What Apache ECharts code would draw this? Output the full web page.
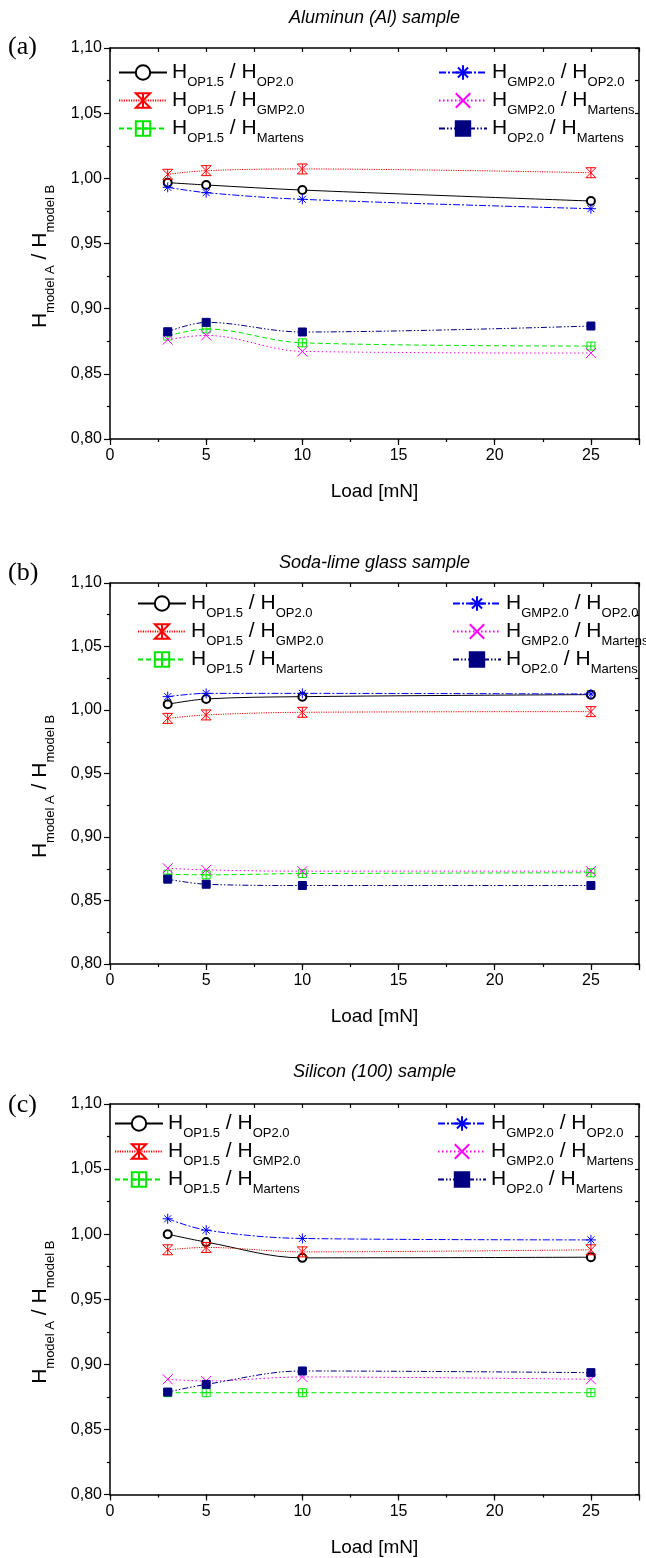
<!DOCTYPE html>
<html><head><meta charset="utf-8">
<script src="https://cdn.jsdelivr.net/npm/echarts@6/dist/echarts.min.js"></script>
<style>html,body{margin:0;padding:0;background:#fff}#c{width:646px;height:1558px}</style>
</head><body><div id="c"></div>
<script>
// ---------------- DATA ----------------
const loads = [3, 5, 10, 25];
const panelTitles = ['Aluminun (Al) sample', 'Soda-lime glass sample', 'Silicon (100) sample'];
const panelLetters = ['(a)', '(b)', '(c)'];
const ratioNames = ['OP1.5/OP2.0', 'OP1.5/GMP2.0', 'OP1.5/Martens', 'GMP2.0/OP2.0', 'GMP2.0/Martens', 'OP2.0/Martens'];
const xAxisName = 'Load [mN]';
const yAxisNameParts = ['model A', 'model B'];

// (a) Aluminun
const al_OP15_OP20   = [0.9967, 0.9949, 0.9910, 0.9826];
const al_OP15_GMP20  = [1.0031, 1.0059, 1.0072, 1.0043];
const al_OP15_Mart   = [0.8790, 0.8844, 0.8738, 0.8713];
const al_GMP20_OP20  = [0.9931, 0.9890, 0.9839, 0.9767];
const al_GMP20_Mart  = [0.8762, 0.8795, 0.8672, 0.8659];
const al_OP20_Mart   = [0.8823, 0.8895, 0.8821, 0.8867];
// (b) Soda-lime glass
const gl_OP15_OP20   = [1.0045, 1.0087, 1.0105, 1.0121];
const gl_OP15_GMP20  = [0.9934, 0.9961, 0.9982, 0.9987];
const gl_OP15_Mart   = [0.8707, 0.8702, 0.8712, 0.8718];
const gl_GMP20_OP20  = [1.0105, 1.0131, 1.0131, 1.0126];
const gl_GMP20_Mart  = [0.8754, 0.8741, 0.8731, 0.8731];
const gl_OP20_Mart   = [0.8668, 0.8628, 0.8618, 0.8618];
// (c) Silicon (100)
const si_OP15_OP20   = [1.0000, 0.9939, 0.9818, 0.9823];
const si_OP15_GMP20  = [0.9880, 0.9898, 0.9864, 0.9880];
const si_OP15_Mart   = [0.8782, 0.8782, 0.8782, 0.8782];
const si_GMP20_OP20  = [1.0118, 1.0031, 0.9967, 0.9956];
const si_GMP20_Mart  = [0.8885, 0.8872, 0.8903, 0.8885];
const si_OP20_Mart   = [0.8787, 0.8846, 0.8949, 0.8936];

const panelData = [
  [al_OP15_OP20, al_OP15_GMP20, al_OP15_Mart, al_GMP20_OP20, al_GMP20_Mart, al_OP20_Mart],
  [gl_OP15_OP20, gl_OP15_GMP20, gl_OP15_Mart, gl_GMP20_OP20, gl_GMP20_Mart, gl_OP20_Mart],
  [si_OP15_OP20, si_OP15_GMP20, si_OP15_Mart, si_GMP20_OP20, si_GMP20_Mart, si_OP20_Mart]
];

// ---------------- LAYOUT / STYLE ----------------
const FONT = 'Liberation Sans, Arial, sans-serif';
const gridL = 110, gridR = 7;
const grids = [{top: 48, h: 391}, {top: 583, h: 381}, {top: 1104, h: 391}];
const legendPos = [
  {l1: 118, l2: 438, top: 56},
  {l1: 137, l2: 452, top: 587},
  {l1: 114, l2: 437, top: 1107}
];
const titleY = [18, 563, 1072];
const letterY = [47, 573, 1105];

const styles = [
  {color: '#000000', symbol: 'emptyCircle', size: 8, type: 'solid', hollow: false},
  {color: '#ff0000', symbol: 'path://M0,0 L10,0 L0,10 L10,10 Z M5,0 L5,10', size: 10, type: [1.2, 1.2], hollow: true},
  {color: '#00e600', symbol: 'path://M0,0 L10,0 L10,10 L0,10 Z M5,0 L5,10 M0,5 L10,5', size: 8, type: [5, 3], hollow: true},
  {color: '#0000ff', symbol: 'path://M5,0 L5,10 M0,5 L10,5 M1.5,1.5 L8.5,8.5 M8.5,1.5 L1.5,8.5', size: 10, type: [7, 2, 2, 2], hollow: true},
  {color: '#ff00ff', symbol: 'path://M0,0 L10,10 M10,0 L0,10', size: 10, type: [1.5, 2.5], hollow: true},
  {color: '#000080', symbol: 'rect', size: 8, type: [6, 2, 1.5, 2, 1.5, 2], hollow: false}
];

const sub = s => '{s|' + s + '}';
function legendFmt(name) {
  const p = name.split('/');
  return '{h|H}' + sub(p[0]) + '{h| / H}' + sub(p[1]);
}
const richLegend = {
  h: {fontSize: 21, lineHeight: 24, fontFamily: FONT, color: '#000'},
  s: {fontSize: 13, lineHeight: 24, fontFamily: FONT, color: '#000', padding: [20, 0, 0, 0]}
};

const xAxis = [], yAxis = [], grid = [], series = [], legend = [], graphic = [];
const axisLine = {show: true, onZero: false, lineStyle: {color: '#000', width: 1.5}};

grids.forEach((g, p) => {
  grid.push({left: gridL, right: gridR, top: g.top, height: g.h, containLabel: false});
  // bottom major
  xAxis.push({
    type: 'value', gridIndex: p, position: 'bottom', min: 0, max: 27.5, interval: 5,
    axisLine, splitLine: {show: false},
    axisTick: {show: true, inside: false, length: 6, lineStyle: {color: '#000', width: 1.2}},
    axisLabel: {show: true, fontSize: 16, fontFamily: FONT, color: '#000', margin: 9,
      formatter: v => (v % 5 === 0 ? String(v) : '')},
    name: xAxisName, nameLocation: 'middle', nameGap: 53,
    nameTextStyle: {fontSize: 19, fontFamily: FONT, color: '#000', verticalAlign: 'middle'}
  });
  // bottom minor ticks
  xAxis.push({
    type: 'value', gridIndex: p, position: 'bottom', min: 0, max: 27.5, interval: 2.5,
    axisLine: {show: false}, splitLine: {show: false}, axisLabel: {show: false},
    axisTick: {show: true, inside: false, length: 3, lineStyle: {color: '#000', width: 1.2}}
  });
  // top
  xAxis.push({
    type: 'value', gridIndex: p, position: 'top', min: 0, max: 27.5, interval: 2.5,
    axisLine, splitLine: {show: false}, axisLabel: {show: false},
    axisTick: {show: true, inside: true, length: 4, lineStyle: {color: '#000', width: 1.2}}
  });
  // left
  yAxis.push({
    type: 'value', gridIndex: p, position: 'left', min: 0.80, max: 1.10, interval: 0.05,
    axisLine, splitLine: {show: false},
    axisTick: {show: true, inside: false, length: 6, lineStyle: {color: '#000', width: 1.2}},
    minorTick: {show: true, splitNumber: 2, length: 3, lineStyle: {color: '#000', width: 1.2}},
    axisLabel: {fontSize: 16, fontFamily: FONT, color: '#000', margin: 8,
      formatter: v => v.toFixed(2).replace('.', ',')},
    name: '{h|H}' + sub(yAxisNameParts[0]) + '{h| / H}' + sub(yAxisNameParts[1]),
    nameLocation: 'middle', nameGap: 70, nameRotate: 90,
    nameTextStyle: {verticalAlign: 'middle', align: 'center', padding: [0, 26, 0, 0], rich: {
      h: {fontSize: 21, lineHeight: 24, fontFamily: FONT, color: '#000'},
      s: {fontSize: 13, lineHeight: 24, fontFamily: FONT, color: '#000', padding: [20, 0, 0, 0]}
    }}
  });
  // right
  yAxis.push({
    type: 'value', gridIndex: p, position: 'right', min: 0.80, max: 1.10, interval: 0.025,
    axisLine, splitLine: {show: false}, axisLabel: {show: false},
    axisTick: {show: true, inside: true, length: 4, lineStyle: {color: '#000', width: 1.2}}
  });

  panelData[p].forEach((vals, k) => {
    const st = styles[k];
    series.push({
      type: 'line', name: ratioNames[k], xAxisIndex: p * 3, yAxisIndex: p * 2,
      data: loads.map((x, i) => [x, vals[i]]),
      smooth: 0.35, symbol: st.symbol, symbolSize: st.size, symbolKeepAspect: true,
      showAllSymbol: true,
      lineStyle: {color: st.color, width: 1, type: st.type},
      itemStyle: st.hollow ? {color: 'rgba(0,0,0,0)', borderColor: st.color, borderWidth: 1}
                           : {color: st.color, borderColor: st.color, borderWidth: 1},
      emphasis: {disabled: true}, animation: false, z: 3
    });
  });

  const lp = legendPos[p];
  [[0, 3, lp.l1], [3, 6, lp.l2]].forEach(([a, b, l]) => {
    legend.push({
      orient: 'vertical', left: l, top: lp.top, padding: 0, itemGap: -5,
      itemWidth: 48, itemHeight: 18, selectedMode: false,
      data: ratioNames.slice(a, b), formatter: legendFmt,
      textStyle: {rich: richLegend, padding: [0, 0, 0, 0]}
    });
  });

  graphic.push({type: 'text', x: gridL + (646 - gridL - gridR) / 2, y: titleY[p],
    style: {text: panelTitles[p], font: 'italic 18px ' + FONT, fill: '#000', align: 'center', verticalAlign: 'middle'}});
  graphic.push({type: 'text', x: 8, y: letterY[p],
    style: {text: panelLetters[p], font: '26px Liberation Serif, Times New Roman, serif', fill: '#000', align: 'left', verticalAlign: 'middle'}});
});

const chart = echarts.init(document.getElementById('c'), null, {renderer: 'canvas'});
chart.setOption({animation: false, backgroundColor: '#fff', grid, xAxis, yAxis, series, legend, graphic});
</script>
</body></html>
